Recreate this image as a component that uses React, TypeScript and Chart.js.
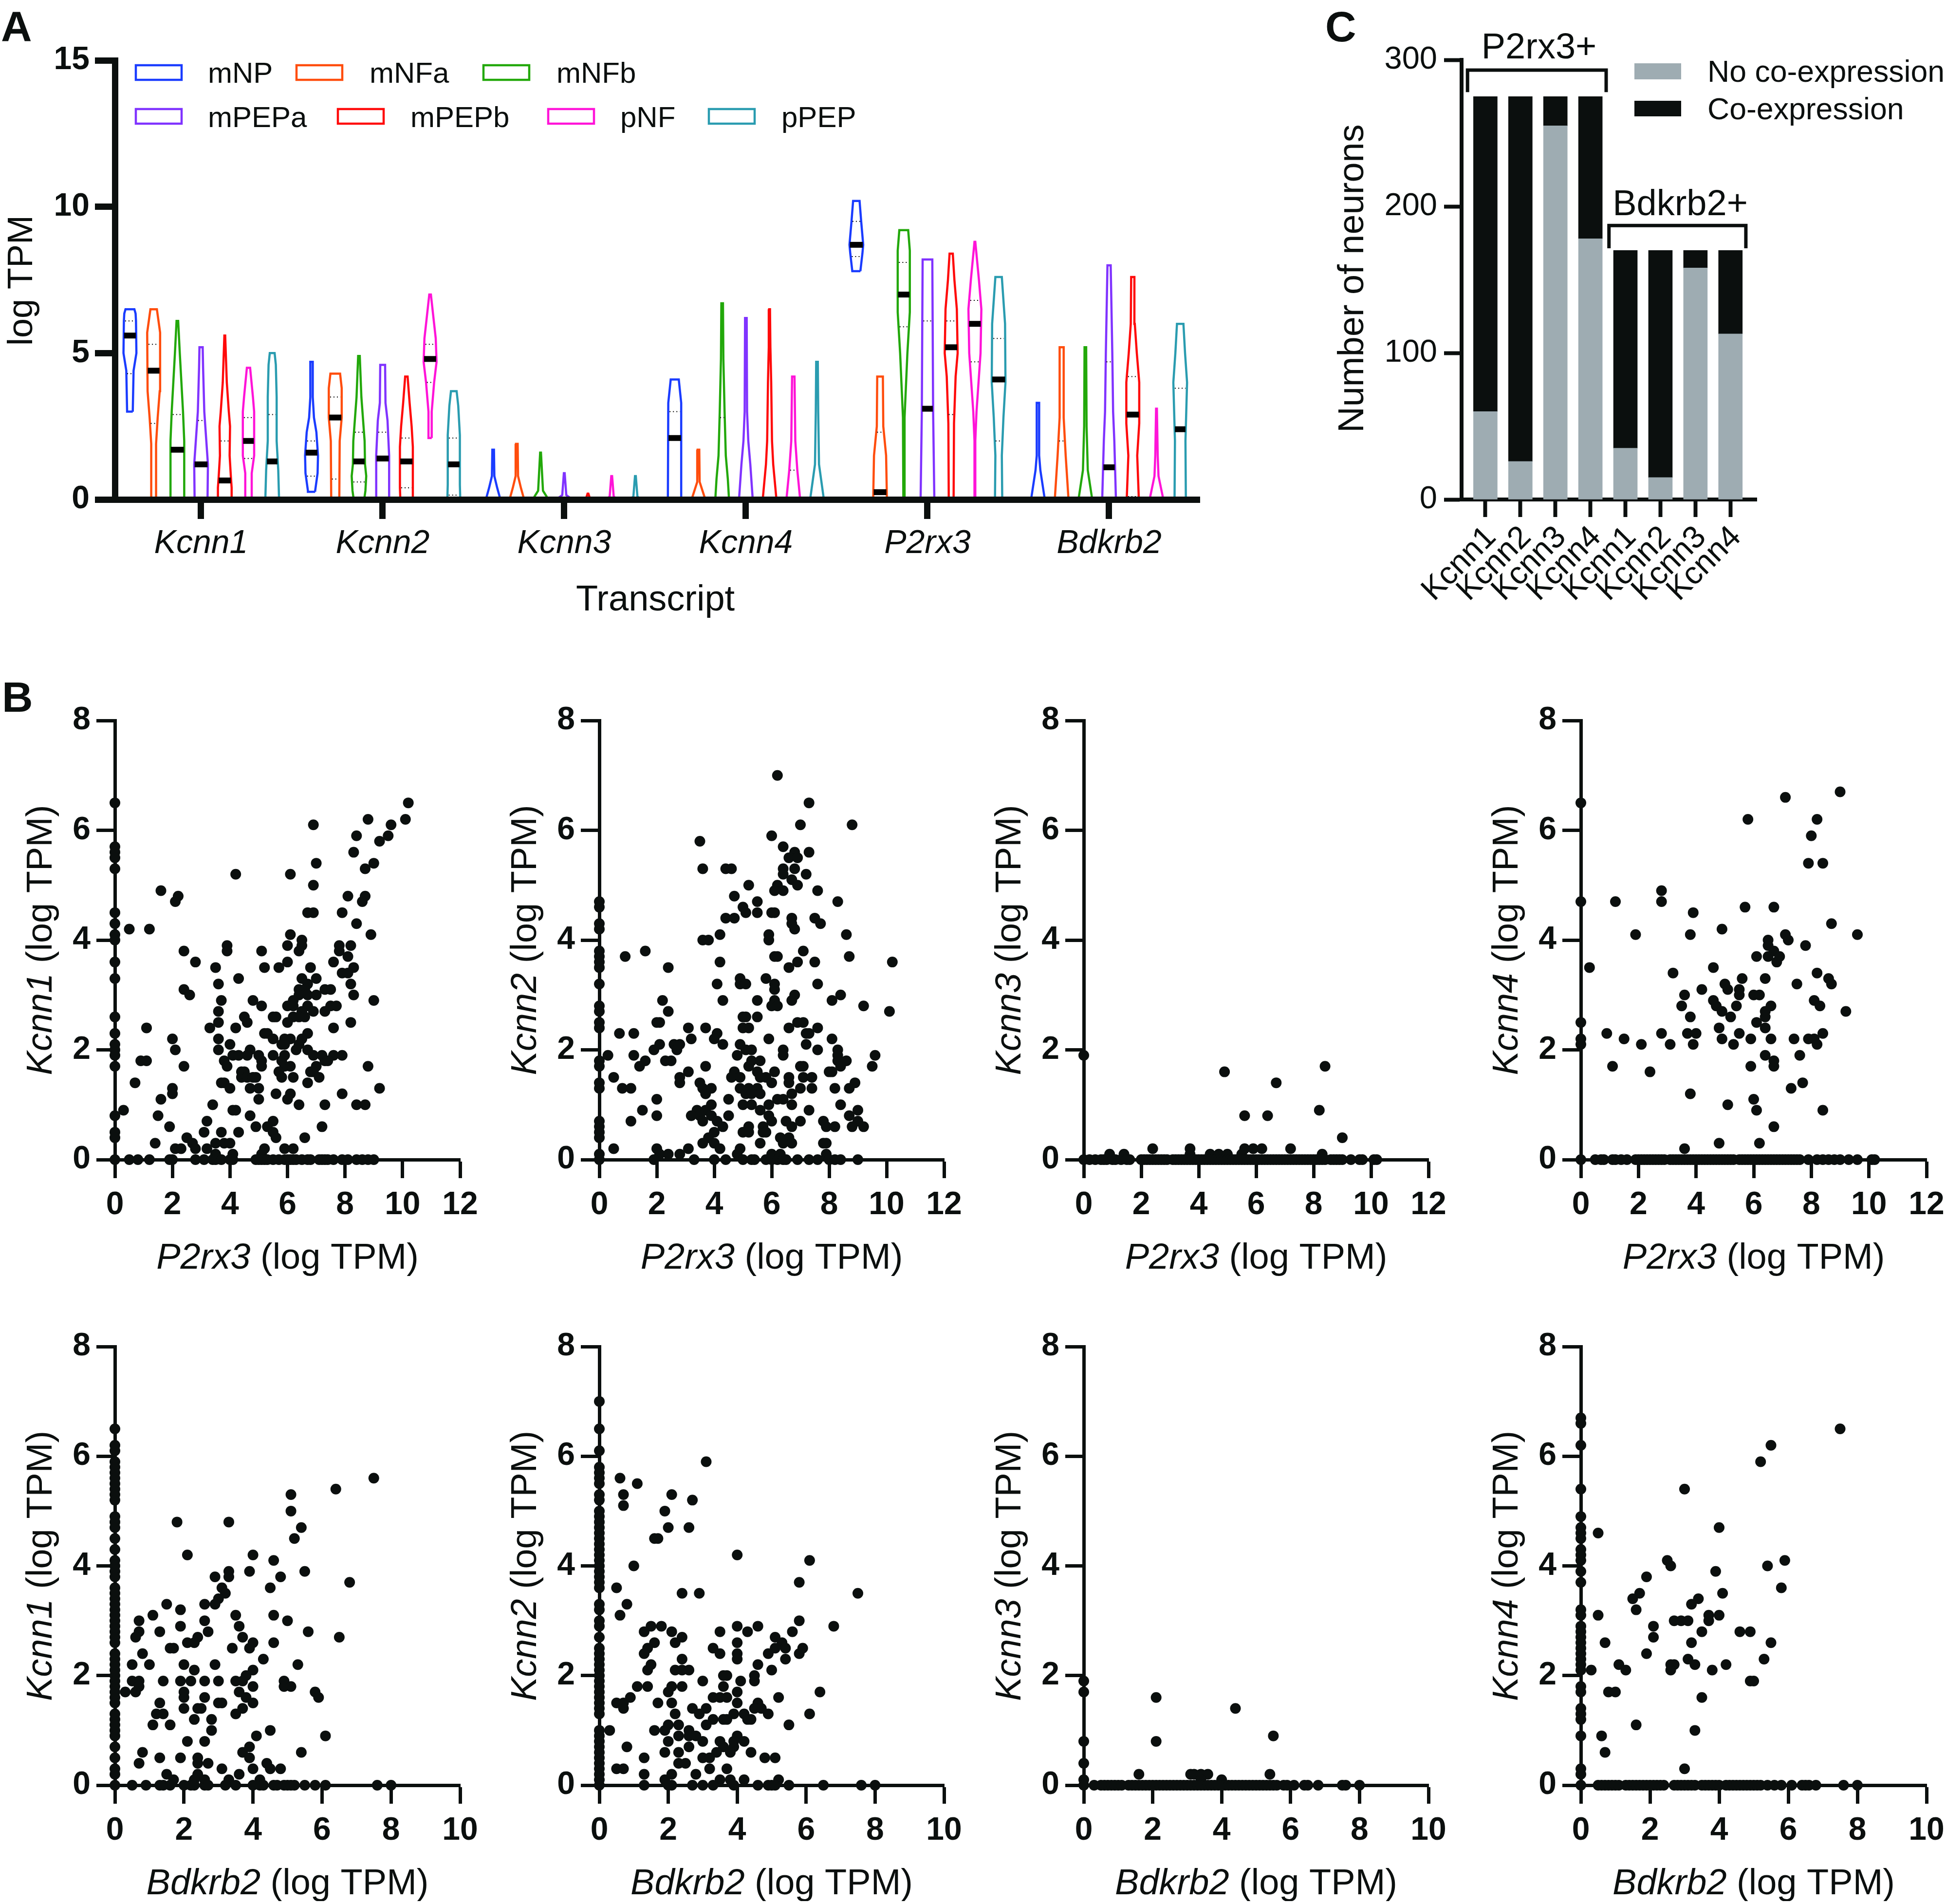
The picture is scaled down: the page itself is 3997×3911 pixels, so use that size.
import React, { useEffect, useRef } from "react";
import { Chart, registerables } from "chart.js";

Chart.register(...registerables);
Chart.defaults.font.family = "'Liberation Sans', Arial, sans-serif";

const INK = "#0b0f0e";

// ---------- Panel A: violins ----------
const transcripts = ["Kcnn1", "Kcnn2", "Kcnn3", "Kcnn4", "P2rx3", "Bdkrb2"];
const clusters = ["mNP", "mNFa", "mNFb", "mPEPa", "mPEPb", "pNF", "pPEP"];
const clusterColors = ["#1a3cff", "#ff4d0d", "#22a80a", "#8033ff", "#ff0a0a", "#ff14d8", "#2a9cb0"];

// each violin outline: [log TPM, relative half-width]
const kcnn1Shapes = [
  [[3.0, 7], [4.4, 9], [5.0, 16], [6.1, 15], [6.35, 14], [6.5, 11]],
  [[0, 6], [1.9, 6], [2.8, 10], [3.7, 15], [5.7, 16], [6.2, 11], [6.5, 8]],
  [[0, 17], [2, 17], [3, 14], [4, 10], [5, 6], [6.1, 2]],
  [[0, 16], [1.2, 17], [2, 13], [3, 8], [4.5, 5], [5.2, 4]],
  [[0, 17], [0.4, 17], [0.8, 15], [1.5, 12], [2.5, 13], [3, 10], [4, 5], [5.6, 1]],
  [[0, 8], [0.9, 8], [1.5, 14], [3, 14], [3.5, 11], [4.5, 4]],
  [[0, 17], [1, 15], [2, 11], [3.5, 11], [4.6, 9], [5, 6]],
];
const kcnn2Shapes = [
  [[0.26, 9], [0.3, 9], [0.9, 15], [1.5, 16], [2.3, 12], [2.8, 6], [3.5, 3], [4.7, 3]],
  [[0, 10], [2, 11], [2.8, 16], [3.8, 16], [4.3, 12]],
  [[0, 13], [0.3, 16], [0.8, 18], [1.2, 15], [2, 14], [3.5, 6], [4.9, 2]],
  [[0, 16], [1.5, 16], [2.7, 12], [3.3, 7], [4.6, 6]],
  [[0, 15], [0.4, 16], [1.8, 16], [2.5, 13], [3.3, 8], [4.2, 3]],
  [[2.1, 4], [3, 4], [4, 10], [4.7, 16], [5.5, 14], [6, 10], [7, 2]],
  [[0, 16], [0.5, 15], [2.2, 15], [3.2, 11], [3.7, 7]],
];
const kcnn3Shapes = [
  [[0, 16], [0.1, 16], [0.4, 10], [0.8, 3], [1.7, 2]],
  [[0, 16], [0.1, 16], [0.4, 10], [0.8, 3], [1.9, 2]],
  [[0, 15], [0.1, 15], [0.3, 6], [1.6, 1]],
  [[0, 15], [0.05, 15], [0.15, 5], [0.9, 1]],
  [[0, 16], [0.07, 4], [0.2, 1]],
  [[0, 15], [0.1, 5], [0.8, 1]],
  [[0, 15], [0.1, 5], [0.8, 1]],
];
const kcnn4Shapes = [
  [[0, 17], [3.3, 16], [4.1, 10]],
  [[0, 17], [0.6, 3], [1.7, 2]],
  [[0, 17], [0.7, 14], [1.5, 9], [3, 6], [4.8, 3], [6.7, 2]],
  [[0, 17], [1.2, 11], [2, 6], [3, 3], [6.2, 2]],
  [[0, 17], [1.2, 9], [2, 6], [4, 4], [5.2, 2], [6.5, 1]],
  [[0, 17], [1, 10], [2, 5], [4.2, 3]],
  [[0, 17], [0.7, 10], [1.2, 5], [3, 3], [4.7, 2]],
];
const p2rx3Shapes = [
  [[7.8, 10], [8.4, 15], [8.7, 17], [9.5, 12], [10.2, 8]],
  [[0, 17], [1.5, 15], [2.5, 8], [4.2, 7]],
  [[0, 1], [2.8, 2], [5, 9], [6.4, 15], [8.5, 15], [9.2, 11]],
  [[0, 17], [3, 14], [8.2, 12]],
  [[0, 6], [2.6, 7], [4.2, 11], [5, 16], [6.5, 14], [7.5, 8], [8.4, 4]],
  [[0, 1], [2, 1], [3, 4], [5, 14], [6.5, 16], [7.5, 10], [8.8, 1]],
  [[0, 9], [1.5, 8], [2.8, 12], [4, 17], [6, 16], [7.6, 8]],
];
const bdkrb2Shapes = [
  [[0, 17], [1, 6], [1.5, 3], [3.3, 3]],
  [[0, 17], [1.5, 10], [2.8, 5], [5.2, 5]],
  [[0, 17], [1, 6], [2.5, 3], [5.2, 2]],
  [[0, 17], [2, 13], [3, 10], [5, 8], [8, 4]],
  [[0, 15], [1.5, 11], [2.6, 16], [4, 16], [5, 10], [6, 5], [7.6, 4]],
  [[0, 17], [0.8, 5], [1.5, 3], [3.1, 1]],
  [[0, 14], [2, 13], [3, 15], [4, 17], [5, 12], [6, 8]],
];
const kcnn1Medians = [5.6, 4.4, 1.7, 1.2, 0.65, 2.0, 1.3];
const kcnn2Medians = [1.6, 2.8, 1.3, 1.4, 1.3, 4.8, 1.2];
const kcnn3Medians = [0, 0, 0, 0, 0, 0, 0];
const kcnn4Medians = [2.1, 0, 0, 0, 0, 0, 0];
const p2rx3Medians = [8.7, 0.25, 7.0, 3.1, 5.2, 6.0, 4.1];
const bdkrb2Medians = [0, 0, 0, 1.1, 2.9, 0, 2.4];
const kcnn1Quartiles = [[6.1, 4.3], [5.3, 2.6], [2.9], [2.7], [2.0], [2.8, 1.4], [2.9]];
const kcnn2Quartiles = [[2.0, 0.8], [3.5, 0.7], [2.3, 0.6], [2.3], [2.1, 0.4], [5.3, 4.0], [2.1, 0.15]];
const kcnn3Quartiles = [[], [], [], [], [], [], []];
const kcnn4Quartiles = [[3.0], [], [2.8], [], [], [1.0], []];
const p2rx3Quartiles = [[9.5, 8.3], [2.3], [8.1, 5.9], [6.1], [6.1, 2.9], [6.8, 4.7], [5.5, 2.0]];
const bdkrb2Quartiles = [[], [2.0], [], [4.7], [4.2, 0.1], [], [3.8]];

const allShapes = [kcnn1Shapes, kcnn2Shapes, kcnn3Shapes, kcnn4Shapes, p2rx3Shapes, bdkrb2Shapes];
const allMedians = [kcnn1Medians, kcnn2Medians, kcnn3Medians, kcnn4Medians, p2rx3Medians, bdkrb2Medians];
const allQuartiles = [kcnn1Quartiles, kcnn2Quartiles, kcnn3Quartiles, kcnn4Quartiles, p2rx3Quartiles, bdkrb2Quartiles];

// ---------- Panel C: stacked bars ----------
const barGenes = ["Kcnn1", "Kcnn2", "Kcnn3", "Kcnn4", "Kcnn1", "Kcnn2", "Kcnn3", "Kcnn4"];
const noCoExpression = [60, 26, 255, 178, 35, 15, 158, 113];
const coExpression = [215, 249, 20, 97, 135, 155, 12, 57];
const bracketP2rx3 = { x: [-0.51, 3.45], y: [278, 293] };
const bracketBdkrb2 = { x: [3.53, 7.44], y: [171.4, 187] };

// ---------- Panel B: scatter. Rows: [y, x, x, ...]; "Axis" lists are y values at x = 0 ----------
const p2Kcnn1Axis = [6.5, 5.7, 5.6, 5.5, 5.3, 4.5, 4.3, 4.1, 4.0, 3.6, 3.3, 2.6, 2.3, 2.1, 2.0, 1.9, 1.7, 0.8, 0.5, 0.4, 0];
const p2Kcnn1 = [
  [6.5, 10.2], [6.2, 10.1, 8.8], [6.1, 9.6, 6.9], [5.9, 9.5, 8.4], [5.8, 9.2], [5.6, 8.3], [5.4, 9.0, 7.0], [5.3, 8.7],
  [5.2, 4.2, 6.1], [5.0, 6.9], [4.9, 1.6], [4.8, 2.2, 8.7, 8.1], [4.7, 2.1, 8.6], [4.5, 6.7, 6.9, 7.9], [4.3, 8.4],
  [4.2, 0.5, 1.2], [4.1, 6.1, 8.9], [4.0, 6.5], [3.9, 3.9, 6.0, 6.5, 7.8, 8.2], [3.8, 2.4, 3.9, 5.1, 6.4, 7.8], [3.7, 8.1],
  [3.6, 2.8, 6.0, 7.6], [3.5, 3.5, 5.2, 5.7, 6.8, 8.3], [3.4, 7.9, 8.1], [3.3, 4.3, 6.5, 7.0], [3.2, 3.6, 8.2, 6.7],
  [3.1, 2.4, 6.4, 6.6, 7.3, 7.5], [3.0, 2.6, 6.4, 6.7, 7.0, 8.3], [2.9, 3.7, 4.8, 6.2, 9.0], [2.8, 5.1, 6.0, 6.2, 6.7, 7.5, 7.7],
  [2.7, 3.6, 6.5, 6.9, 7.3], [2.6, 4.5, 5.5, 5.6, 6.2, 6.4, 6.6], [2.5, 3.6, 4.6, 6.0, 8.2], [2.4, 1.1, 3.3, 4.2, 7.6],
  [2.3, 5.2, 5.3, 6.7], [2.2, 2.0, 3.6, 5.5, 5.9, 6.1, 6.5], [2.1, 4.0, 5.8, 5.9, 6.4], [2.0, 2.1, 3.6, 4.7, 6.3, 6.7],
  [1.9, 4.1, 4.3, 4.6, 5.0, 5.5, 5.9, 6.9, 7.2, 7.6, 7.9], [1.8, 0.9, 1.1, 3.8, 5.1, 5.8, 7.3, 7.4],
  [1.7, 2.4, 3.9, 5.1, 5.9, 6.1, 7.0, 8.8], [1.6, 4.4, 4.5, 5.7, 6.8, 6.9], [1.5, 4.4, 4.6, 4.8, 4.9, 5.8, 6.2, 7.1],
  [1.4, 0.7, 3.7, 3.8, 6.7], [1.3, 2.0, 4.0, 4.7, 5.0, 9.2], [1.2, 2.0, 5.6, 6.1, 7.9], [1.1, 1.6, 5.0, 6.0],
  [1.0, 3.4, 6.4, 7.3, 8.4, 8.7], [0.9, 0.3, 4.1, 4.2], [0.8, 1.5, 4.7], [0.7, 3.2, 5.5], [0.6, 1.9, 4.9, 5.3, 7.2],
  [0.5, 3.1, 3.7, 4.3, 5.5], [0.4, 2.5, 5.6, 6.6], [0.3, 2.7, 1.4, 3.5, 3.8, 4.0], [0.2, 2.1, 2.3, 2.8, 3.2, 5.2, 5.9, 6.2],
  [0.1, 3.5, 4.1, 5.1],
  [0, 0.5, 0.8, 1.2, 1.9, 2.0, 2.8, 3.1, 3.4, 3.5, 3.7, 4.0, 4.1, 4.9, 5.0, 5.1, 5.2, 5.3, 5.5, 5.7, 5.9, 6.0, 6.1, 6.2, 6.3, 6.5, 6.7, 6.8, 7.1, 7.2, 7.3, 7.4, 7.6, 7.9, 8.1, 8.4, 8.6, 8.8, 9.0],
];
const p2Kcnn2Axis = [4.7, 4.6, 4.3, 4.2, 3.8, 3.7, 3.6, 3.5, 3.2, 2.8, 2.7, 2.5, 2.4, 1.8, 1.7, 1.4, 1.3, 0.7, 0.6, 0.5, 0.4, 0.1, 0];
const p2Kcnn2 = [
  [7.0, 6.2], [6.5, 7.3], [6.1, 7.0, 8.8], [5.9, 6.0], [5.8, 3.5], [5.7, 6.4], [5.6, 6.8, 7.3], [5.5, 6.6, 6.9],
  [5.3, 3.6, 4.4, 4.6, 6.4, 6.8], [5.2, 6.4, 7.2], [5.1, 6.7], [5.0, 5.2, 6.2, 6.9], [4.9, 6.1, 6.4, 7.6], [4.8, 4.7],
  [4.7, 5.5, 8.3], [4.6, 5.0], [4.5, 5.1, 5.5, 6.0, 6.1], [4.4, 4.4, 4.7, 6.7, 7.5], [4.3, 6.7, 7.7], [4.2, 6.8],
  [4.1, 4.2, 5.9, 8.6], [4.0, 3.6, 3.8, 5.9], [3.8, 1.6, 7.1], [3.7, 0.9, 6.1, 6.2, 8.7], [3.6, 4.2, 6.9, 7.5, 10.2],
  [3.5, 2.4, 6.6], [3.3, 4.9, 5.8], [3.2, 4.1, 4.9, 5.1, 6.1, 7.6], [3.1, 6.1], [3.0, 6.8, 8.4],
  [2.9, 2.2, 4.3, 5.5, 6.7, 8.1, 6.1], [2.8, 6.0, 6.2, 9.2], [2.7, 2.4, 10.1], [2.6, 5.0, 5.1, 5.5], [2.5, 2.0, 2.1, 6.9, 7.1],
  [2.4, 3.1, 3.7, 5.0, 5.2, 6.6, 7.6], [2.3, 0.7, 1.2, 4.1, 7.2, 7.3], [2.2, 3.2, 4.0, 5.9, 8.1],
  [2.1, 2.1, 2.6, 2.8, 4.3, 4.9, 7.2], [2.0, 1.9, 2.7, 5.1, 5.3, 6.4, 7.6, 8.3], [1.9, 0.3, 1.2, 4.8, 6.4, 8.3, 9.6],
  [1.8, 1.6, 2.3, 2.5, 5.3, 5.6, 8.3, 8.6], [1.7, 1.4, 3.7, 5.2, 7.0, 7.1, 8.4, 9.5], [1.6, 3.1, 4.7, 5.5, 6.1, 8.0, 8.1],
  [1.5, 0.5, 2.8, 4.6, 4.9, 5.6, 5.8, 6.6, 7.1, 7.4], [1.4, 2.8, 3.5, 6.0, 6.6, 8.9],
  [1.3, 0.8, 1.1, 3.6, 3.9, 4.9, 5.2, 5.5, 7.0, 7.4, 8.2, 8.7], [1.2, 3.7, 5.1, 5.3, 5.6, 6.7], [1.1, 2.0, 4.5, 6.2, 6.4],
  [1.0, 3.9, 5.0, 5.3, 5.9, 6.7, 8.4], [0.9, 1.5, 3.4, 3.7, 5.6, 7.3, 9.0], [0.8, 2.0, 3.2, 3.5, 3.9, 4.5, 5.9, 8.7],
  [0.7, 1.1, 3.6, 4.1, 6.0, 6.5, 7.0, 7.8, 9.0], [0.6, 4.3, 5.2, 5.7, 6.7, 7.9, 8.2, 8.8, 9.2], [0.5, 4.0, 5.0, 5.2, 5.7, 5.8],
  [0.4, 3.8, 6.3, 6.6], [0.3, 3.6, 4.0, 5.6, 6.4, 6.7, 7.8, 7.9], [0.2, 0.5, 2.0, 3.1, 4.2, 4.9],
  [0.1, 2.1, 2.4, 2.8, 4.8, 6.0, 6.3, 7.9], [0, 1.9, 3.3, 4.0, 4.4, 5.0, 5.3, 5.4, 5.8, 6.0, 6.2, 6.4, 6.5, 6.9, 7.3, 7.6, 8.0, 8.2, 8.4, 9.0],
];
const p2Kcnn3Axis = [1.9, 0];
const p2Kcnn3 = [
  [1.7, 8.4], [1.6, 4.9], [1.4, 6.7], [0.9, 8.2], [0.8, 5.6, 6.4], [0.4, 9.0], [0.2, 2.4, 3.7, 5.6, 5.9, 6.2, 7.2],
  [0.1, 0.9, 1.4, 3.7, 4.4, 4.7, 5.0, 5.5, 8.3],
  [0, 0.2, 0.4, 0.6, 0.7, 0.8, 1.0, 1.1, 1.3, 1.5, 1.6, 2.0, 2.1, 2.2, 2.3, 2.4, 2.5, 2.6, 2.7, 2.8, 2.9, 3.1, 3.2, 3.3, 3.4, 3.5, 3.6, 3.7, 3.8, 3.9, 4.0, 4.1, 4.2, 4.3, 4.4, 4.5, 4.6, 4.7, 4.8, 4.9, 5.0, 5.1, 5.2, 5.3, 5.4, 5.5, 5.6, 5.7, 5.8, 5.9, 6.0, 6.1, 6.2, 6.3, 6.4, 6.5, 6.6, 6.7, 6.8, 6.9, 7.0, 7.1, 7.2, 7.3, 7.4, 7.5, 7.6, 7.7, 7.8, 7.9, 8.0, 8.1, 8.2, 8.3, 8.4, 8.6, 8.7, 8.8, 8.9, 9.0, 9.3, 9.6, 9.7, 10.1, 10.2],
];
const p2Kcnn4Axis = [6.5, 4.7, 2.5, 2.2, 2.1, 0];
const p2Kcnn4 = [
  [6.7, 9.0], [6.6, 7.1], [6.2, 5.8, 8.2], [5.9, 8.0], [5.4, 7.9, 8.4], [4.9, 2.8], [4.7, 1.2, 2.8], [4.6, 5.7, 6.7], [4.5, 3.9],
  [4.3, 8.7], [4.2, 4.9], [4.1, 1.9, 3.8, 7.1, 9.6], [4.0, 6.5, 7.2], [3.9, 6.5, 7.8], [3.8, 6.7], [3.7, 6.1, 6.5, 6.9],
  [3.6, 6.8], [3.5, 0.3, 4.6], [3.4, 3.2, 8.2], [3.3, 5.6, 6.4, 8.6], [3.2, 5.0, 7.5, 8.7], [3.1, 4.2, 5.1, 5.5],
  [3.0, 3.6, 5.5, 6.0, 6.2], [2.9, 4.6, 8.1], [2.8, 3.5, 4.7, 5.4, 6.6, 8.3], [2.7, 4.9, 6.4, 9.2], [2.6, 3.8, 5.2, 6.4],
  [2.5, 6.1], [2.4, 4.8, 6.4], [2.3, 0.9, 2.8, 3.7, 4.0, 5.5, 8.4], [2.2, 1.5, 4.9, 5.9, 6.6, 7.4, 7.9, 8.1],
  [2.1, 2.1, 3.1, 3.9, 5.3, 8.2], [1.9, 6.4, 7.6], [1.8, 6.7], [1.7, 1.1, 5.9, 6.7], [1.6, 2.4], [1.4, 7.7], [1.3, 7.3],
  [1.2, 3.8], [1.1, 6.0], [1.0, 5.1], [0.9, 6.1, 8.4], [0.6, 6.7], [0.3, 4.8, 6.2], [0.2, 3.6],
  [0, 0.5, 0.7, 0.8, 1.1, 1.2, 1.4, 1.6, 1.9, 2.0, 2.1, 2.2, 2.3, 2.4, 2.5, 2.6, 2.7, 2.8, 2.9, 3.1, 3.2, 3.3, 3.4, 3.5, 3.6, 3.7, 3.8, 3.9, 4.0, 4.1, 4.2, 4.3, 4.4, 4.5, 4.6, 4.7, 4.8, 4.9, 5.0, 5.1, 5.2, 5.3, 5.5, 5.6, 5.7, 5.8, 5.9, 6.0, 6.1, 6.2, 6.3, 6.4, 6.5, 6.6, 6.7, 6.8, 6.9, 7.0, 7.1, 7.2, 7.3, 7.4, 7.5, 7.6, 7.9, 8.2, 8.4, 8.6, 8.8, 9.0, 9.3, 9.6, 10.1, 10.2],
];
const bdKcnn1Axis = [6.5, 6.2, 6.1, 5.9, 5.8, 5.7, 5.6, 5.5, 5.4, 5.3, 5.2, 4.9, 4.8, 4.7, 4.5, 4.3, 4.1, 4.0, 3.9, 3.8, 3.6, 3.5, 3.4, 3.3, 3.2, 3.1, 3.0, 2.9, 2.8, 2.7, 2.6, 2.4, 2.3, 2.2, 2.1, 2.0, 1.9, 1.8, 1.7, 1.6, 1.5, 1.3, 1.2, 1.1, 1.0, 0.9, 0.7, 0.5, 0.3, 0.2, 0];
const bdKcnn1 = [
  [5.6, 7.5], [5.4, 6.4], [5.3, 5.1], [5.0, 5.1], [4.8, 1.8, 3.3], [4.7, 5.4], [4.5, 5.2], [4.2, 2.1, 4.0], [4.1, 4.6],
  [3.9, 3.3, 3.9, 5.5], [3.8, 2.9, 3.3, 4.8], [3.7, 6.8], [3.6, 3.1, 4.5], [3.5, 3.2], [3.4, 3.0], [3.3, 2.9, 1.5, 2.6], [3.2, 1.9],
  [3.1, 1.1, 3.5, 4.6], [3.0, 0.7, 2.6, 5.0], [2.9, 1.9, 3.6], [2.8, 0.7, 1.3, 2.7, 5.6], [2.7, 0.6, 2.4, 3.7, 6.5],
  [2.6, 2.1, 2.3, 4.0, 4.6], [2.5, 1.6, 1.7, 3.4, 3.9], [2.4, 0.8], [2.3, 4.3], [2.2, 0.5, 1.0, 2.0, 2.9, 5.3], [2.1, 2.3, 4.0],
  [2.0, 3.8], [1.9, 0.5, 0.7, 1.4, 1.9, 2.2, 2.6, 3.0, 3.5, 3.7, 4.9], [1.8, 0.7, 4.0, 4.9, 5.1], [1.7, 0.3, 0.6, 2.0, 3.6, 5.8],
  [1.6, 2.0, 2.6, 3.8, 5.9], [1.5, 1.3, 3.0, 3.1, 4.0], [1.4, 2.0, 2.4, 2.5, 3.7], [1.3, 1.2, 1.4, 3.5], [1.2, 2.3, 2.8],
  [1.1, 1.1, 1.6], [1.0, 2.8, 4.5], [0.9, 4.1, 6.1], [0.8, 2.1, 2.6], [0.7, 3.9], [0.6, 0.8, 3.7, 5.4], [0.5, 1.3, 1.9, 2.4, 3.9],
  [0.4, 0.7, 2.4, 2.7, 4.4], [0.3, 3.1, 4.0, 4.5, 4.8], [0.2, 1.5, 2.4, 3.6], [0.1, 1.7, 2.3, 2.6, 3.3, 4.2],
  [0, 0.5, 0.9, 1.3, 1.4, 1.6, 2.0, 2.2, 2.3, 2.6, 2.7, 3.2, 3.5, 4.0, 4.2, 4.3, 4.6, 4.7, 4.9, 5.0, 5.1, 5.2, 5.5, 5.8, 6.1, 7.6, 8.0],
];
const bdKcnn2Axis = [7.0, 6.5, 6.1, 5.8, 5.7, 5.6, 5.5, 5.3, 5.2, 5.0, 4.9, 4.8, 4.7, 4.6, 4.5, 4.4, 4.3, 4.2, 4.1, 4.0, 3.9, 3.8, 3.7, 3.6, 3.3, 3.2, 3.0, 2.9, 2.7, 2.5, 2.4, 2.3, 2.2, 2.1, 2.0, 1.9, 1.8, 1.7, 1.6, 1.5, 1.4, 1.3, 1.0, 0.9, 0.8, 0.7, 0.6, 0.5, 0.4, 0.3, 0.2, 0.1, 0];
const bdKcnn2 = [
  [5.9, 3.1], [5.6, 0.6], [5.5, 1.1], [5.3, 0.7, 2.1], [5.2, 2.7], [5.1, 0.7], [5.0, 1.9], [4.7, 2.0, 2.6], [4.5, 1.6, 1.7],
  [4.2, 4.0], [4.1, 6.1], [4.0, 1.0], [3.7, 5.8], [3.6, 0.5], [3.5, 2.4, 2.9, 7.5], [3.3, 0.8], [3.1, 0.6], [3.0, 5.8],
  [2.9, 1.5, 1.8, 4.0, 4.6, 6.8], [2.8, 1.3, 2.1, 3.5, 4.3, 5.6], [2.7, 2.4, 5.1], [2.6, 1.6, 2.2, 4.0, 5.3],
  [2.5, 1.4, 3.3, 5.1, 5.4, 5.9], [2.4, 1.3, 3.5, 4.0, 4.9, 5.8], [2.3, 2.4, 4.0, 5.4], [2.2, 1.5, 4.6],
  [2.1, 1.4, 2.2, 2.4, 2.6, 5.0], [2.0, 3.6, 3.7, 4.5], [1.9, 3.0, 4.1, 4.5], [1.8, 1.1, 1.4, 2.1, 2.4, 3.6], [1.7, 2.0, 4.0, 6.4],
  [1.6, 0.9, 3.3, 3.5, 3.7, 5.2], [1.5, 0.5, 0.7, 1.7, 2.1, 4.0, 4.6], [1.4, 0.7, 2.7, 3.1, 4.5, 4.7],
  [1.3, 2.2, 2.9, 3.9, 4.2, 4.9, 6.1], [1.2, 3.3, 3.6, 3.7, 4.3, 4.4], [1.1, 2.0, 2.3, 3.1, 5.5], [1.0, 0.3, 1.6, 1.9, 2.6],
  [0.9, 2.3, 2.6, 2.8, 4.0], [0.8, 2.0, 3.0, 3.5, 3.9, 4.2], [0.7, 0.8, 2.6, 3.6, 3.9], [0.6, 1.9, 2.3, 3.4, 3.8, 4.4],
  [0.5, 1.3, 3.0, 3.2, 4.8, 5.1], [0.4, 2.3, 2.5], [0.3, 0.5, 0.7, 3.2, 3.7], [0.2, 1.3, 2.1, 2.8], [0.1, 1.9, 3.5, 3.8, 4.2, 5.2],
  [0, 1.3, 2.0, 2.1, 2.7, 3.0, 3.3, 3.9, 4.6, 4.9, 5.0, 5.1, 5.5, 6.5, 7.6, 8.0],
];
const bdKcnn3Axis = [1.9, 1.7, 0.8, 0.4, 0.1, 0];
const bdKcnn3 = [
  [1.6, 2.1], [1.4, 4.4], [0.9, 5.5], [0.8, 2.1], [0.2, 1.6, 3.1, 3.2, 3.4, 3.6, 5.4], [0.1, 3.4, 4.0],
  [0, 0.3, 0.5, 0.6, 0.7, 0.8, 0.9, 1.0, 1.1, 1.3, 1.4, 1.5, 1.6, 1.7, 1.8, 1.9, 2.0, 2.1, 2.2, 2.3, 2.4, 2.5, 2.6, 2.7, 2.8, 2.9, 3.0, 3.1, 3.2, 3.3, 3.4, 3.5, 3.6, 3.7, 3.8, 3.9, 4.0, 4.1, 4.2, 4.3, 4.4, 4.5, 4.6, 4.7, 4.8, 4.9, 5.0, 5.1, 5.2, 5.3, 5.4, 5.5, 5.6, 5.8, 5.9, 6.1, 6.4, 6.5, 6.8, 7.5, 7.6, 8.0],
];
const bdKcnn4Axis = [6.7, 6.6, 6.2, 5.4, 4.9, 4.7, 4.6, 4.5, 4.3, 4.2, 4.1, 3.9, 3.7, 3.2, 3.1, 2.9, 2.8, 2.7, 2.6, 2.5, 2.4, 2.3, 2.2, 2.1, 1.8, 1.7, 1.4, 1.3, 1.2, 0.9, 0.3, 0.2, 0];
const bdKcnn4 = [
  [6.5, 7.5], [6.2, 5.5], [5.9, 5.2], [5.4, 3.0], [4.7, 4.0], [4.6, 0.5], [4.1, 2.5, 5.9], [4.0, 2.6, 5.4], [3.9, 3.9], [3.8, 1.9],
  [3.6, 5.8], [3.5, 1.7, 4.1], [3.4, 1.5, 3.4], [3.3, 3.2], [3.2, 1.6], [3.1, 0.5, 3.7, 4.0], [3.0, 2.7, 2.9, 3.1, 3.7],
  [2.9, 2.1], [2.8, 3.5, 4.6, 4.9], [2.7, 2.1], [2.6, 0.7, 3.2, 5.5], [2.4, 1.9], [2.3, 3.1, 5.3], [2.2, 1.1, 2.6, 2.7, 3.3, 4.2],
  [2.1, 0.3, 1.3, 2.6, 3.8], [1.9, 4.9, 5.0], [1.7, 0.8, 1.0], [1.6, 3.5], [1.1, 1.6], [1.0, 3.3], [0.9, 0.6], [0.6, 0.7], [0.3, 3.0],
  [0, 0.5, 0.6, 0.7, 0.8, 0.9, 1.0, 1.1, 1.3, 1.4, 1.5, 1.6, 1.7, 1.8, 1.9, 2.0, 2.1, 2.2, 2.3, 2.4, 2.7, 2.8, 2.9, 3.0, 3.1, 3.2, 3.3, 3.5, 3.6, 3.7, 3.8, 3.9, 4.0, 4.2, 4.3, 4.4, 4.5, 4.6, 4.7, 4.8, 4.9, 5.0, 5.1, 5.2, 5.4, 5.6, 5.8, 6.1, 6.4, 6.5, 6.6, 6.8, 7.6, 8.0],
];

const scatterPanels = [
  { gene: "Kcnn1", ref: "P2rx3", rows: p2Kcnn1, axis: p2Kcnn1Axis },
  { gene: "Kcnn2", ref: "P2rx3", rows: p2Kcnn2, axis: p2Kcnn2Axis },
  { gene: "Kcnn3", ref: "P2rx3", rows: p2Kcnn3, axis: p2Kcnn3Axis },
  { gene: "Kcnn4", ref: "P2rx3", rows: p2Kcnn4, axis: p2Kcnn4Axis },
  { gene: "Kcnn1", ref: "Bdkrb2", rows: bdKcnn1, axis: bdKcnn1Axis },
  { gene: "Kcnn2", ref: "Bdkrb2", rows: bdKcnn2, axis: bdKcnn2Axis },
  { gene: "Kcnn3", ref: "Bdkrb2", rows: bdKcnn3, axis: bdKcnn3Axis },
  { gene: "Kcnn4", ref: "Bdkrb2", rows: bdKcnn4, axis: bdKcnn4Axis },
];

// ---------- Layout (page pixels) ----------
const colAxis = [[236, 945], [1231, 1939], [2226, 2934], [3247, 3957]];
const rowAxis = [[1480, 2382], [2766, 3667]];

type Part = { t: string; italic?: boolean };
type Label = { parts: Part[]; x: number; y: number; size: number; bold?: boolean; rot?: boolean; align?: string };

const fontOf = (l: Label, p: Part) =>
  `${p.italic ? "italic " : ""}${l.bold ? "bold " : ""}${l.size}px 'Liberation Sans', Arial, sans-serif`;

function drawLabel(ctx: CanvasRenderingContext2D, l: Label) {
  ctx.save();
  ctx.fillStyle = INK;
  ctx.textBaseline = "alphabetic";
  ctx.textAlign = "left";
  ctx.translate(l.x, l.y);
  if (l.rot) ctx.rotate(-Math.PI / 2);
  let total = 0;
  for (const p of l.parts) {
    ctx.font = fontOf(l, p);
    total += ctx.measureText(p.t).width;
  }
  let cur = l.align === "left" ? 0 : -total / 2;
  for (const p of l.parts) {
    ctx.font = fontOf(l, p);
    ctx.fillText(p.t, cur, 0);
    cur += ctx.measureText(p.t).width;
  }
  ctx.restore();
}

function overlay(id: string, left: number, top: number, labels: Label[], extra?: (c: any, ctx: CanvasRenderingContext2D) => void) {
  return {
    id,
    afterDraw(chart: any) {
      const ctx = chart.ctx;
      ctx.save();
      if (extra) extra(chart, ctx);
      ctx.translate(-left, -top);
      labels.forEach((l) => drawLabel(ctx, l));
      ctx.restore();
    },
  };
}

const noChrome = { legend: { display: false }, tooltip: { enabled: false } };

function hwAt(shape: number[][], v: number) {
  for (let i = 1; i < shape.length; i++) {
    if (v <= shape[i][0]) {
      const [a, b] = [shape[i - 1], shape[i]];
      return a[1] + ((b[1] - a[1]) * (v - a[0])) / (b[0] - a[0] || 1);
    }
  }
  return shape[shape.length - 1][1];
}

const GROUP_PX = 373; // one transcript on the x scale
const SLOT = 48.7 / GROUP_PX;
const HW_UNIT = 1 / 1.206 / GROUP_PX;

function violinDatasets() {
  const outlines: any[] = [];
  const inner: any[] = [];
  allShapes.forEach((group, g) =>
    group.forEach((shape, c) => {
      const cx = g + (c - 3) * SLOT;
      const right = shape.map(([y, w]) => ({ x: cx + w * HW_UNIT, y }));
      const leftSide = [...shape].reverse().map(([y, w]) => ({ x: cx - w * HW_UNIT, y }));
      outlines.push({
        data: [...right, ...leftSide, right[0]],
        showLine: true,
        borderColor: clusterColors[c],
        borderWidth: 4.5,
        pointRadius: 0,
        clip: false,
        borderJoinStyle: "miter",
        order: 2,
      });
      const m = allMedians[g][c];
      const mw = Math.max(hwAt(shape, m) * 0.95, 12) * HW_UNIT;
      inner.push({
        data: [{ x: cx - mw, y: m }, { x: cx + mw, y: m }],
        showLine: true,
        borderColor: "#000",
        borderWidth: 12,
        pointRadius: 0,
        clip: false,
        order: 1,
      });
      allQuartiles[g][c].forEach((q) => {
        const w = hwAt(shape, q) * 0.8 * HW_UNIT;
        inner.push({
          data: [{ x: cx - w, y: q }, { x: cx + w, y: q }],
          showLine: true,
          borderColor: "#000",
          borderWidth: 2,
          borderDash: [2, 5],
          pointRadius: 0,
          clip: false,
          order: 1,
        });
      });
    })
  );
  return [...outlines, ...inner];
}

const legendA = [
  [279, 134, 427, 170], [609, 134, 759, 170], [993, 134, 1143, 170],
  [279, 224, 427, 261], [694, 224, 843, 261], [1126, 224, 1274, 261], [1456, 224, 1605, 261],
];

function buildA(canvas: HTMLCanvasElement) {
  const labels: Label[] = [
    { parts: [{ t: "A" }], x: 2, y: 84, size: 88, bold: true, align: "left" },
    { parts: [{ t: "log TPM" }], x: 66, y: 576, size: 72, rot: true },
    { parts: [{ t: "Transcript" }], x: 1346, y: 1254, size: 74 },
  ];
  clusters.forEach((name, i) => {
    labels.push({ parts: [{ t: name }], x: legendA[i][2], y: legendA[i][3], size: 60, align: "left" });
  });
  return new Chart(canvas, {
    type: "scatter",
    data: { datasets: violinDatasets() },
    plugins: [
      overlay("a", 0, 0, labels, (_c, ctx) => {
        clusters.forEach((_, i) => {
          ctx.strokeStyle = clusterColors[i];
          ctx.lineWidth = 4.5;
          ctx.strokeRect(legendA[i][0], legendA[i][1], 94, 30);
        });
      }),
    ],
    options: {
      animation: false,
      responsive: false,
      devicePixelRatio: 1,
      layout: { autoPadding: false, padding: { top: 124, right: 36, left: 0, bottom: 0 } },
      plugins: noChrome,
      scales: {
        x: {
          type: "linear",
          min: -0.4745,
          max: 5.4987,
          afterBuildTicks: (s: any) => { s.ticks = transcripts.map((_, i) => ({ value: i })); },
          afterFit: (s: any) => { s.height = 264; },
          border: { display: true, width: 13, color: INK, z: 1 },
          grid: { drawOnChartArea: false, drawTicks: true, tickLength: 40, tickWidth: 13, tickColor: INK },
          ticks: {
            autoSkip: false, maxRotation: 0, color: INK, padding: 10,
            font: { size: 68, style: "italic" },
            callback: (v: any) => transcripts[v],
          },
        },
        y: {
          min: 0, max: 15,
          afterFit: (s: any) => { s.width = 236; },
          border: { display: true, width: 13, color: INK, z: 1 },
          grid: { drawOnChartArea: false, drawTicks: true, tickLength: 41, tickWidth: 13, tickColor: INK },
          ticks: { stepSize: 5, color: INK, padding: 11, font: { size: 66, weight: "bold" } },
        },
      },
    },
  } as any);
}

function drawBracket(chart: any, ctx: CanvasRenderingContext2D, b: { x: number[]; y: number[] }) {
  const { x, y } = chart.scales;
  const l = x.getPixelForValue(b.x[0]);
  const r = x.getPixelForValue(b.x[1]);
  const lo = y.getPixelForValue(b.y[0]);
  const hi = y.getPixelForValue(b.y[1]);
  ctx.strokeStyle = INK;
  ctx.lineWidth = 7;
  ctx.lineJoin = "miter";
  ctx.beginPath();
  ctx.moveTo(l, lo);
  ctx.lineTo(l, hi);
  ctx.lineTo(r, hi);
  ctx.lineTo(r, lo);
  ctx.stroke();
}

function buildC(canvas: HTMLCanvasElement) {
  const left = 2650;
  const labels: Label[] = [
    { parts: [{ t: "C" }], x: 2722, y: 85, size: 88, bold: true, align: "left" },
    { parts: [{ t: "Number of neurons" }], x: 2800, y: 572, size: 74, rot: true },
    { parts: [{ t: "P2rx3+" }], x: 3161, y: 120, size: 74 },
    { parts: [{ t: "Bdkrb2+" }], x: 3451, y: 442, size: 74 },
    { parts: [{ t: "No co-expression" }], x: 3507, y: 168, size: 62.6, align: "left" },
    { parts: [{ t: "Co-expression" }], x: 3507, y: 245, size: 62.6, align: "left" },
  ];
  return new Chart(canvas, {
    type: "bar",
    data: {
      datasets: [
        {
          label: "No co-expression",
          data: noCoExpression.map((y, x) => ({ x, y })),
          backgroundColor: "#9eacb2",
          barThickness: 49,
        },
        {
          label: "Co-expression",
          data: coExpression.map((y, x) => ({ x, y })),
          backgroundColor: INK,
          barThickness: 49,
        },
      ],
    },
    plugins: [
      overlay("c", left, 0, labels, (c, ctx) => {
        drawBracket(c, ctx, bracketP2rx3);
        drawBracket(c, ctx, bracketBdkrb2);
        ctx.fillStyle = "#9eacb2";
        ctx.fillRect(3357 - left, 130, 96, 33);
        ctx.fillStyle = INK;
        ctx.fillRect(3357 - left, 207, 96, 32);
      }),
    ],
    options: {
      animation: false,
      responsive: false,
      devicePixelRatio: 1,
      layout: { autoPadding: false, padding: { top: 123, right: 389, left: 0, bottom: 0 } },
      plugins: noChrome,
      scales: {
        x: {
          type: "linear",
          stacked: true,
          offset: false,
          min: -0.68,
          max: 7.747,
          afterBuildTicks: (s: any) => { s.ticks = barGenes.map((_, i) => ({ value: i })); },
          afterFit: (s: any) => { s.height = 294; },
          border: { display: true, width: 8, color: INK },
          grid: { offset: false, drawOnChartArea: false, drawTicks: true, tickLength: 36, tickWidth: 8, tickColor: INK },
          ticks: {
            autoSkip: false, minRotation: 45, maxRotation: 45, color: INK, padding: 4, labelOffset: 12,
            font: { size: 65 },
            callback: (v: any) => barGenes[v],
          },
        },
        y: {
          stacked: true,
          min: 0, max: 300,
          afterFit: (s: any) => { s.width = 352; },
          border: { display: true, width: 8, color: INK },
          grid: { drawOnChartArea: false, drawTicks: true, tickLength: 36, tickWidth: 8, tickColor: INK },
          ticks: { stepSize: 100, color: INK, padding: 14, font: { size: 65 } },
        },
      },
    },
  } as any);
}

function buildScatter(canvas: HTMLCanvasElement, index: number, g: any) {
  const p = scatterPanels[index];
  const row = index < 4 ? 0 : 1;
  const col = index % 4;
  const [x0, x1] = colAxis[col];
  const [yTop, yBase] = rowAxis[row];
  const L = g.left;
  const T = g.top;
  const part = (name: string): Part[] => [{ t: name, italic: true }, { t: " (log TPM)" }];
  const labels: Label[] = [
    { parts: part(p.gene), x: x0 - 130, y: (yTop + yBase) / 2, size: 74, rot: true },
    { parts: part(p.ref), x: (x0 + x1) / 2, y: yBase + 224, size: 74 },
  ];
  if (index === 0) labels.push({ parts: [{ t: "B" }], x: 4, y: 1462, size: 88, bold: true, align: "left" });
  const points = [
    ...p.axis.map((y: number) => ({ x: 0, y })),
    ...p.rows.flatMap((r: number[]) => r.slice(1).map((x) => ({ x, y: r[0] }))),
  ];
  return new Chart(canvas, {
    type: "scatter",
    data: {
      datasets: [{ data: points, pointRadius: 11, pointBackgroundColor: INK, pointBorderWidth: 0, clip: false }],
    },
    plugins: [overlay("s" + index, L, T, labels)],
    options: {
      animation: false,
      responsive: false,
      devicePixelRatio: 1,
      layout: { autoPadding: false, padding: { top: yTop - T, right: g.width - (x1 - L), left: 0, bottom: 0 } },
      plugins: noChrome,
      scales: {
        x: {
          type: "linear",
          min: 0,
          max: p.ref === "P2rx3" ? 12 : 10,
          afterFit: (s: any) => { s.height = g.height - (yBase - T); },
          border: { display: true, width: 7, color: INK },
          grid: { drawOnChartArea: false, drawTicks: true, tickLength: 38, tickWidth: 7, tickColor: INK },
          ticks: { stepSize: 2, autoSkip: false, maxRotation: 0, color: INK, padding: 16, font: { size: 66, weight: "bold" } },
        },
        y: {
          min: 0, max: 8,
          afterFit: (s: any) => { s.width = x0 - L; },
          border: { display: true, width: 7, color: INK },
          grid: { drawOnChartArea: false, drawTicks: true, tickLength: 38, tickWidth: 7, tickColor: INK },
          ticks: { stepSize: 2, color: INK, padding: 12, font: { size: 66, weight: "bold" } },
        },
      },
    },
  } as any);
}

const scatterGeometry = scatterPanels.map((_, i) => {
  const row = i < 4 ? 0 : 1;
  const col = i % 4;
  const left = colAxis[col][0] - 236;
  const top = row === 0 ? 1380 : 2690;
  const right = colAxis[col][1] + 70;
  const bottom = row === 0 ? 2640 : 3905;
  return { left, top, width: right - left, height: bottom - top };
});

export default function App() {
  const aRef = useRef<HTMLCanvasElement>(null);
  const cRef = useRef<HTMLCanvasElement>(null);
  const sRefs = useRef<(HTMLCanvasElement | null)[]>([]);

  useEffect(() => {
    const charts = [
      buildA(aRef.current!),
      buildC(cRef.current!),
      ...scatterPanels.map((_, i) => buildScatter(sRefs.current[i]!, i, scatterGeometry[i])),
    ];
    return () => charts.forEach((c) => c.destroy());
  }, []);

  const place = (left: number, top: number): React.CSSProperties => ({ position: "absolute", left, top });

  return (
    <div style={{ position: "absolute", left: 0, top: 0, width: 3997, height: 3911, overflow: "hidden", background: "#fff" }}>
      <canvas ref={aRef} width={2500} height={1290} style={place(0, 0)} />
      <canvas ref={cRef} width={1347} height={1320} style={place(2650, 0)} />
      {scatterGeometry.map((g, i) => (
        <canvas
          key={i}
          ref={(el) => { sRefs.current[i] = el; }}
          width={g.width}
          height={g.height}
          style={place(g.left, g.top)}
        />
      ))}
    </div>
  );
}
